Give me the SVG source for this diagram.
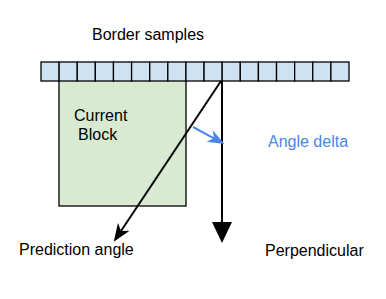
<svg xmlns="http://www.w3.org/2000/svg" width="386" height="299" viewBox="0 0 386 299">
  <style>
    .lbl { font-family: "Liberation Sans", Arial, sans-serif; font-size: 16px; fill: #000; }
    .blue { fill: #4a86e8; }
    .cell { fill: #cfe2f3; stroke: #000; stroke-width: 1.3; }
    .block { fill: #d9ead3; stroke: #000; stroke-width: 1.3; }
    .conn { fill: none; stroke-width: 2; }
  </style>
  <defs>
    <marker id="classic" markerUnits="userSpaceOnUse" markerWidth="20" markerHeight="16" viewBox="0 0 20 16" refX="5" refY="8" orient="auto">
      <path d="M18,8 L0,1 L5,8 L0,15 Z" fill="#000"/>
    </marker>
    <marker id="classicBlue" markerUnits="userSpaceOnUse" markerWidth="20" markerHeight="16" viewBox="0 0 20 16" refX="5" refY="8" orient="auto">
      <path d="M17,8 L0,1.5 L5,8 L0,14.5 Z" fill="#4a86e8"/>
    </marker>
    <marker id="block" markerUnits="userSpaceOnUse" markerWidth="22" markerHeight="22" viewBox="0 0 22 22" refX="0" refY="11" orient="auto">
      <path d="M0,1 L21,11 L0,21 Z" fill="#000"/>
    </marker>
  </defs>

  <rect width="386" height="299" fill="#fff"/>

  <!-- current block, sitting under the sample row -->
  <g id="current-block">
    <rect class="block" x="59" y="80" width="127" height="126"/>
    <text class="lbl" x="74" y="121">Current</text>
    <text class="lbl" x="78" y="140">Block</text>
  </g>

  <!-- row of 17 border sample cells -->
  <g id="border-samples">
    <rect class="cell" x="41" y="62" width="18.12" height="19"/>
    <rect class="cell" x="59.12" y="62" width="18.12" height="19"/>
    <rect class="cell" x="77.24" y="62" width="18.12" height="19"/>
    <rect class="cell" x="95.35" y="62" width="18.12" height="19"/>
    <rect class="cell" x="113.47" y="62" width="18.12" height="19"/>
    <rect class="cell" x="131.59" y="62" width="18.12" height="19"/>
    <rect class="cell" x="149.71" y="62" width="18.12" height="19"/>
    <rect class="cell" x="167.82" y="62" width="18.12" height="19"/>
    <rect class="cell" x="185.94" y="62" width="18.12" height="19"/>
    <rect class="cell" x="204.06" y="62" width="18.12" height="19"/>
    <rect class="cell" x="222.18" y="62" width="18.12" height="19"/>
    <rect class="cell" x="240.29" y="62" width="18.12" height="19"/>
    <rect class="cell" x="258.41" y="62" width="18.12" height="19"/>
    <rect class="cell" x="276.53" y="62" width="18.12" height="19"/>
    <rect class="cell" x="294.65" y="62" width="18.12" height="19"/>
    <rect class="cell" x="312.76" y="62" width="18.12" height="19"/>
    <rect class="cell" x="330.88" y="62" width="18.12" height="19"/>
    <text class="lbl" x="92" y="40">Border samples</text>
  </g>

  <g id="connectors">
    <!-- prediction angle -->
    <line class="conn" stroke="#000" x1="221" y1="81" x2="121" y2="231" marker-end="url(#classic)"/>
    <!-- perpendicular -->
    <line class="conn" stroke="#000" x1="222" y1="81" x2="222" y2="222" marker-end="url(#block)"/>
    <!-- angle delta -->
    <line class="conn" stroke="#4a86e8" x1="193" y1="127" x2="214" y2="138.3" marker-end="url(#classicBlue)"/>
  </g>

  <g id="labels">
    <text class="lbl" x="19" y="255">Prediction angle</text>
    <text class="lbl" x="265" y="256">Perpendicular</text>
    <text class="lbl blue" x="268" y="147">Angle delta</text>
  </g>
</svg>
